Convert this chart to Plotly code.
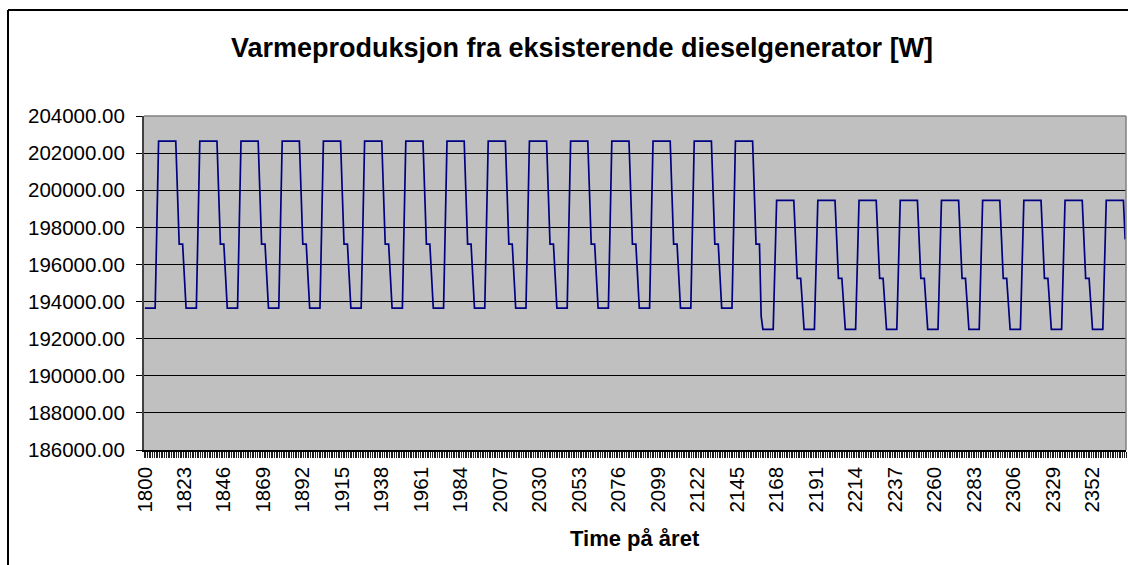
import plotly.graph_objects as go

# --- Data (hourly values, W) ---
start_hour = 1800
# daily profile, first regime (hours 0..23 of each day)
old_day = [193650, 193650, 193650, 193650, 193650, 193650, 193650, 198150,
           202650, 202650, 202650, 202650, 202650, 202650, 202650, 202650,
           202650, 202650, 202650, 199880, 197100, 197100, 197100, 195380]
# transition day (last day of first regime, drops to new low)
transition_day = [193650, 193650, 193650, 193650, 193650, 193650, 193650, 198150,
                  202650, 202650, 202650, 202650, 202650, 202650, 202650, 202650,
                  202650, 202650, 202650, 199880, 197100, 197100, 197100, 193200]
# daily profile, second regime
new_day = [192500, 192500, 192500, 192500, 192500, 192500, 192500, 195980,
           199450, 199450, 199450, 199450, 199450, 199450, 199450, 199450,
           199450, 199450, 199450, 197350, 195250, 195250, 195250, 193880]
# last (partial) day shown
last_day = [192500, 192500, 192500, 192500, 192500, 192500, 192500, 195980,
            199450, 199450, 199450, 199450, 199450, 199450, 199450, 199450,
            199450, 199450, 199450, 197350]
n_old_days = 14
n_new_days = 8

values = old_day * n_old_days + transition_day + new_day * n_new_days + last_day
hours = list(range(start_hour, start_hour + len(values)))
tick_hours = hours[::23]
tick_text = [str(h) for h in tick_hours]

y_min, y_max, y_step = 186000, 204000, 2000

FONT = "Arial, Liberation Sans, sans-serif"

fig = go.Figure()
fig.add_trace(go.Scatter(
    x=hours, y=values, mode="lines",
    line=dict(color="#000080", width=1.7),
    hoverinfo="x+y", showlegend=False,
))

W, H = 1128, 565
L, R, T, B = 144, 2, 116, 115
pw, ph = W - L - R, H - T - B

def px(xp):
    return (xp - L) / pw

def py(yp):
    return (H - B - yp) / ph

fig.update_layout(
    width=W, height=H,
    margin=dict(l=L, r=R, t=T, b=B, autoexpand=False),
    paper_bgcolor="white",
    plot_bgcolor="#C0C0C0",
    font=dict(family=FONT, color="black"),
    title=dict(
        text="<b>Varmeproduksjon fra eksisterende dieselgenerator [W]</b>",
        x=582 / W, xref="container", xanchor="center",
        y=1 - 48 / H, yref="container", yanchor="middle",
        font=dict(size=27, family=FONT, color="black"),
    ),
    xaxis=dict(
        range=[hours[0] - 0.5, hours[-1] + 0.5],
        tickmode="array", tickvals=tick_hours, ticktext=tick_text,
        tickangle=-90,
        tickfont=dict(size=20.5, family=FONT, color="black"),
        ticks="outside", ticklen=7, tickcolor="rgba(0,0,0,0)",
        minor=dict(ticks="outside", ticklen=6, tick0=hours[0] - 0.5, dtick=1,
                   tickcolor="#202020", tickwidth=1, showgrid=False),
        showgrid=False, zeroline=False,
        showline=True, linecolor="black", linewidth=1.5,
        fixedrange=True,
    ),
    yaxis=dict(
        range=[y_min, y_max], dtick=y_step, tick0=y_min,
        tickformat=".2f",
        tickfont=dict(size=20.5, family=FONT, color="black"),
        ticks="outside", ticklen=6, tickcolor="black", tickwidth=1,
        ticklabelstandoff=7,
        showgrid=True, gridcolor="black", gridwidth=1,
        zeroline=False,
        showline=True, linecolor="#404040", linewidth=2,
        fixedrange=True,
    ),
    annotations=[dict(
        text="<b>Time på året</b>", x=0.5, xref="paper",
        y=py(538), yref="paper", xanchor="center", yanchor="middle",
        showarrow=False, font=dict(size=22, family=FONT, color="black"),
    )],
    shapes=[
        # plot area border (top and right)
        dict(type="line", xref="paper", yref="paper", x0=0, x1=1, y0=1, y1=1,
             line=dict(color="#808080", width=1.5)),
        dict(type="line", xref="paper", yref="paper", x0=1, x1=1, y0=0, y1=1,
             line=dict(color="#808080", width=1.5)),
        # chart area border
        dict(type="line", xref="paper", yref="paper", x0=px(8), x1=px(W + 10),
             y0=py(10), y1=py(10), line=dict(color="black", width=2)),
        dict(type="line", xref="paper", yref="paper", x0=px(8), x1=px(8),
             y0=py(10), y1=py(H + 10), line=dict(color="black", width=2)),
    ],
)

fig.write_html(
    "out.html",
    config={"displayModeBar": False},
    post_script="document.body.style.margin='0';document.body.style.overflow='hidden';",
)
